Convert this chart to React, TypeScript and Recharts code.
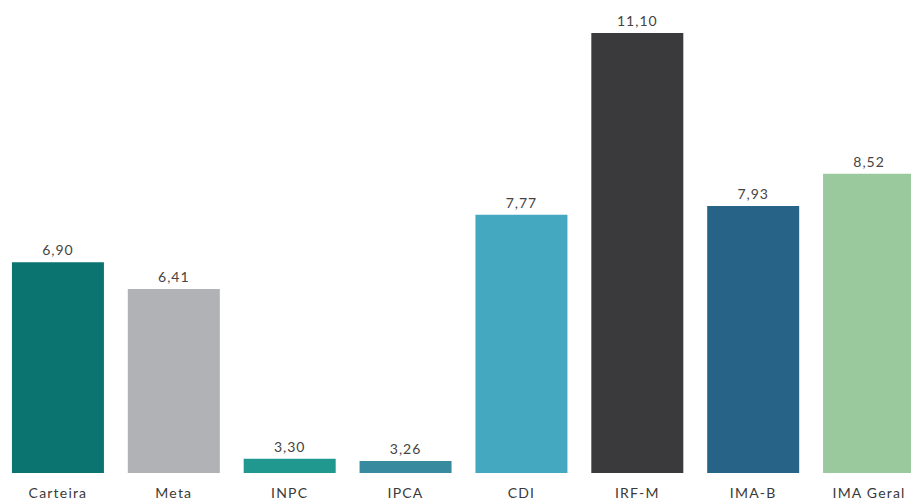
import React from 'react';
import { BarChart, Bar, XAxis, YAxis, Cell, LabelList } from 'recharts';

const categories = ['Carteira', 'Meta', 'INPC', 'IPCA', 'CDI', 'IRF-M', 'IMA-B', 'IMA Geral'];
const values = [6.9, 6.41, 3.3, 3.26, 7.77, 11.1, 7.93, 8.52];
const COLORS = ['#0b7370', '#b1b2b6', '#21988f', '#388b9f', '#45a8c1', '#3a3a3c', '#266387', '#99c99d'];

const data = categories.map((name, i) => ({ name, value: values[i] }));

const fmt = (v: any) => Number(v).toFixed(2).replace('.', ',');

export default function App() {
  return (
    <div style={{ position: 'fixed', left: 0, top: 0, width: 911, height: 500, overflow: 'hidden', background: '#fff' }}>
      <BarChart
        width={927}
        height={500}
        data={data}
        margin={{ top: 33, right: 0, bottom: 0, left: 0 }}
        barCategoryGap="10.3%"
      >
        <XAxis
          dataKey="name"
          axisLine={false}
          tickLine={false}
          height={27}
          tickMargin={9}
          interval={0}
          tick={{ fill: '#3a3a3a', fontSize: 14, fontFamily: 'Lato', letterSpacing: 1.2 }}
        />
        <YAxis hide domain={[3.04, 11.1]} allowDataOverflow />
        <Bar dataKey="value" isAnimationActive={false}>
          {data.map((entry, index) => (
            <Cell key={`cell-${index}`} fill={COLORS[index % COLORS.length]} />
          ))}
          <LabelList
            dataKey="value"
            position="top"
            offset={7}
            formatter={fmt}
            style={{ fill: '#444', fontSize: 14, fontFamily: 'Lato', letterSpacing: 1 }}
          />
        </Bar>
      </BarChart>
    </div>
  );
}
